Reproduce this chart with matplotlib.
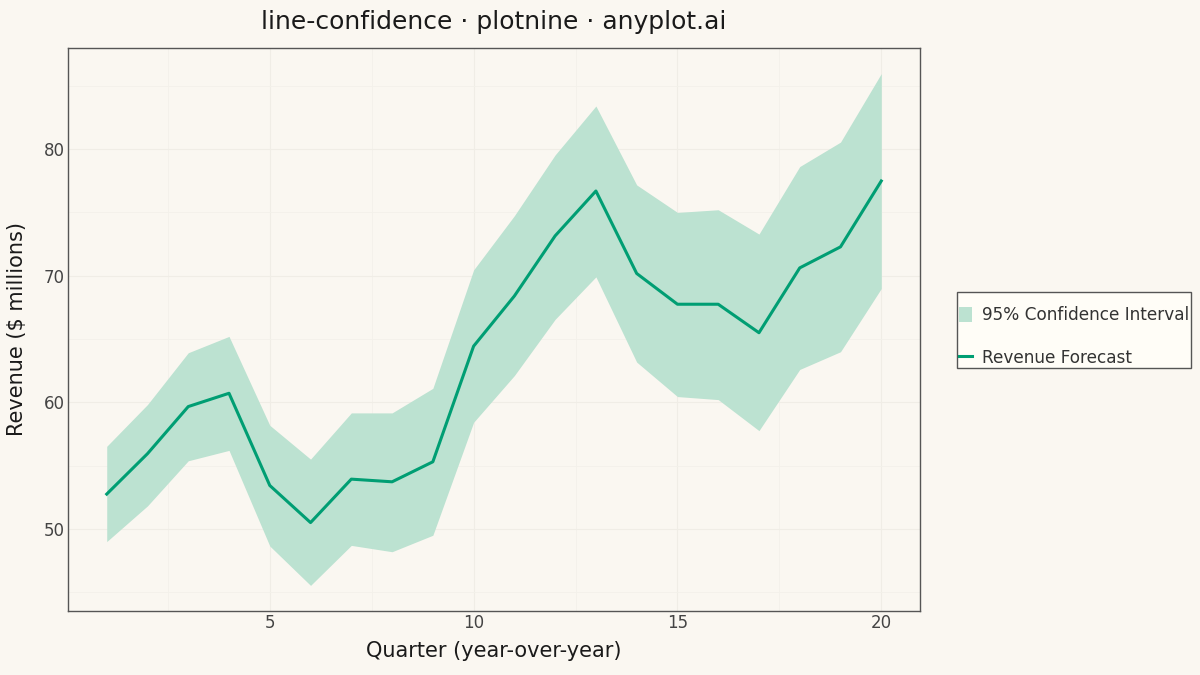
import matplotlib
matplotlib.use("Agg")
import matplotlib.pyplot as plt
from matplotlib.ticker import MultipleLocator
from matplotlib.patches import Patch
from matplotlib.lines import Line2D

quarters = list(range(1, 21))
forecast = [52.75, 55.94, 59.66, 60.71, 53.43, 50.5, 53.93, 53.72, 55.3, 64.43,
            68.39, 73.14, 76.68, 70.17, 67.74, 67.74, 65.49, 70.61, 72.27, 77.47]
upper = [56.52, 59.82, 63.91, 65.2, 58.18, 55.51, 59.16, 59.16, 61.1, 70.45,
         74.73, 79.53, 83.39, 77.16, 74.99, 75.2, 73.28, 78.61, 80.54, 85.95]
lower = [49.0, 51.82, 55.38, 56.2, 48.65, 45.54, 48.7, 48.2, 49.5, 58.42,
         62.11, 66.55, 69.9, 63.17, 60.45, 60.21, 57.76, 62.59, 63.99, 68.98]

title = "line-confidence · plotnine · anyplot.ai"
xlabel = "Quarter (year-over-year)"
ylabel = "Revenue ($ millions)"
band_label = "95% Confidence Interval"
line_label = "Revenue Forecast"

bg = "#FAF7F1"
green = "#009E73"
band_color = "#BCE2D1"

plt.rcParams['font.family'] = ['DejaVu Sans']
fig = plt.figure(figsize=(12, 6.75), dpi=100, facecolor=bg)
ax = fig.add_axes([68/1200, 1-611/675, (920-68)/1200, (611-48)/675])
ax.set_facecolor(bg)

ax.fill_between(quarters, lower, upper, color=band_color, linewidth=0, zorder=2)
ax.plot(quarters, forecast, color=green, linewidth=2.2, zorder=3)

xr = max(quarters) - min(quarters)
ax.set_xlim(min(quarters) - 0.05*xr, max(quarters) + 0.05*xr)
ymin, ymax = min(lower), max(upper)
yr = ymax - ymin
ax.set_ylim(ymin - 0.05*yr, ymax + 0.05*yr)

ax.xaxis.set_major_locator(MultipleLocator(5))
ax.xaxis.set_minor_locator(MultipleLocator(2.5))
ax.yaxis.set_major_locator(MultipleLocator(10))
ax.yaxis.set_minor_locator(MultipleLocator(5))
ax.grid(which='major', color='#F0EDE6', linewidth=0.8, zorder=0)
ax.grid(which='minor', color='#F3F1EA', linewidth=0.6, zorder=0)
ax.set_axisbelow(True)
ax.tick_params(which='both', length=0, labelsize=12, labelcolor='#444444', pad=2.5)

for s in ax.spines.values():
    s.set_color('#555555')
    s.set_linewidth(1.0)

ax.set_xlabel(xlabel, fontsize=15, color='#1A1A1A', labelpad=6)
ax.set_ylabel(ylabel, fontsize=15, color='#1A1A1A', labelpad=12)
fig.text(494/1200, 1-22/675, title, fontsize=18, color='#1A1A1A', ha='center', va='center')

handles = [Patch(facecolor=band_color, edgecolor='none'),
           Line2D([0], [0], color=green, linewidth=2.2)]
leg = fig.legend(handles, [band_label, line_label], loc='center left',
                 bbox_to_anchor=(957/1200, 1-330/675), fontsize=12.2,
                 title=" ", title_fontsize=8.5,
                 frameon=True, fancybox=False, edgecolor='#555555',
                 facecolor='#FFFDF7', framealpha=1, handlelength=0.8,
                 handleheight=1.0, handletextpad=0.55, labelspacing=1.45,
                 borderpad=0.1, borderaxespad=0, labelcolor='#333333')
leg._legend_box.sep = 0
leg.get_frame().set_linewidth(1.0)

fig.savefig("out.png", dpi=100, facecolor=bg)
